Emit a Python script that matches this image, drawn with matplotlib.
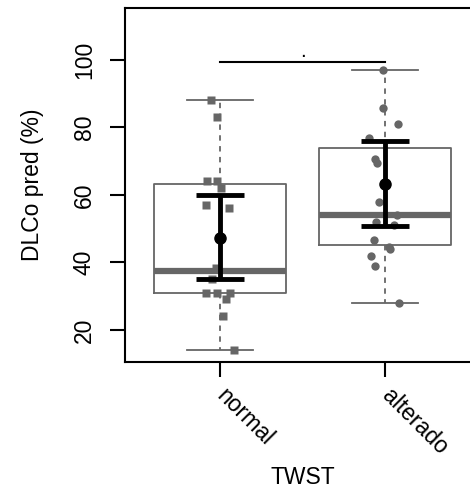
import numpy as np
import matplotlib.pyplot as plt

plt.rcParams["font.family"] = ["Liberation Sans", "DejaVu Sans"]

# --- datos ---
grupos = ["normal", "alterado"]
q1 = [31.0, 45.3]
mediana = [37.5, 54.1]
q3 = [63.3, 73.8]
bigote_inf = [14.1, 28.0]
bigote_sup = [88.0, 96.9]

media = [47.1, 63.3]
ic_inf = [35.1, 50.7]
ic_sup = [60.0, 76.0]

pts_normal = [88.0, 83.0, 64.1, 64.1, 62.1, 57.0, 56.1, 38.4, 35.1,
              31.0, 31.0, 31.0, 29.2, 24.1, 14.1]
jit_normal = [-0.055, -0.018, -0.079, -0.018, 0.006, -0.085, 0.055, -0.024, -0.048,
              -0.085, -0.018, 0.06, 0.036, 0.018, 0.085]
pts_alterado = [96.9, 85.9, 80.9, 77.0, 70.8, 69.6, 57.8, 54.0, 51.9, 51.0,
                46.8, 44.5, 43.9, 41.8, 38.8, 28.0]
jit_alterado = [-0.012, -0.012, 0.079, -0.097, -0.06, -0.048, -0.036, 0.073, -0.055, 0.055,
                -0.067, 0.02, 0.03, -0.085, -0.06, 0.085]

signif = "."
gris = "#666666"

# --- figura ---
fig = plt.figure(figsize=(4.7, 4.93), dpi=100)
ax = fig.add_axes([125 / 470, 131 / 493, 356 / 470, 354 / 493])

stats = []
for i in range(2):
    stats.append(dict(q1=q1[i], med=mediana[i], q3=q3[i],
                      whislo=bigote_inf[i], whishi=bigote_sup[i], fliers=[]))

ax.bxp(stats, positions=[1, 2], widths=0.8, capwidths=0.4, showfliers=False,
       boxprops=dict(color=gris, lw=1.3),
       medianprops=dict(color=gris, lw=4.5, solid_capstyle="butt"),
       whiskerprops=dict(color=gris, lw=1.3, ls=(0, (3, 3))),
       capprops=dict(color=gris, lw=1.3))

# puntos individuales
ax.plot(1 + np.array(jit_normal), pts_normal, "s", color=gris, ms=5.8, mec="none")
ax.plot(2 + np.array(jit_alterado), pts_alterado, "o", color=gris, ms=6, mec="none")

# media e intervalo
pos = np.array([1, 2])
yerr = [np.array(media) - np.array(ic_inf), np.array(ic_sup) - np.array(media)]
ax.errorbar(pos, media, yerr=yerr, fmt="o", color="black", ms=8, elinewidth=3.5,
            capsize=17, capthick=3.5, zorder=5)

# comparacion
y_sig = 99.4
ax.plot([1, 2], [y_sig, y_sig], color="black", lw=1.5)
ax.text(1.5, y_sig + 0.2, signif, ha="center", va="bottom", fontsize=15)

ax.set_xlim(0.424, 2.58)
ax.set_ylim(10.5, 115.4)
ax.set_yticks([20, 40, 60, 80, 100])
ax.set_xticks([1, 2])
ax.set_xticklabels(grupos, rotation=-45, rotation_mode="anchor", ha="left", va="center")
for lab in ax.get_yticklabels():
    lab.set_rotation(90)
    lab.set_va("center")
ax.tick_params(labelsize=16.5, length=11, width=1.5)
ax.tick_params(axis="y", pad=10)
ax.tick_params(axis="x", pad=11)
for s in ax.spines.values():
    s.set_linewidth(1.5)

ax.set_ylabel("DLCo pred (%)", fontsize=16.5, labelpad=21)
ax.set_xlabel("TWST", fontsize=16.5, labelpad=5)

fig.savefig("out.png", dpi=100)
